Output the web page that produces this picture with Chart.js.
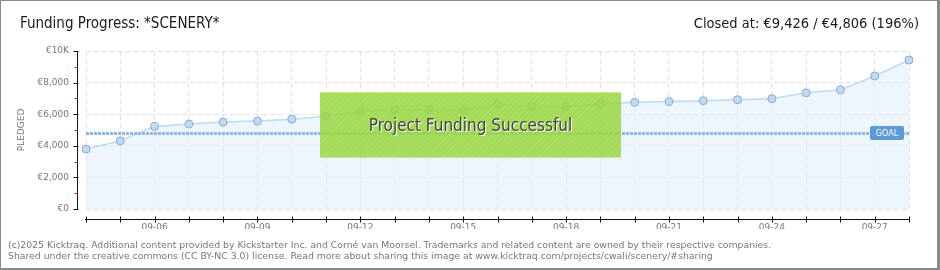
<!DOCTYPE html>
<html>
<head>
<meta charset="utf-8">
<script src="https://cdn.jsdelivr.net/npm/chart.js@4/dist/chart.umd.min.js"></script>
<style>
  html, body { margin: 0; padding: 0; background: #fff; }
  #frame {
    position: relative; width: 940px; height: 270px; box-sizing: border-box;
    border-top: 1px solid #8a8a8a; border-left: 1px solid #8a8a8a;
    border-right: 3px solid #8a8a8a; border-bottom: 2px solid #8a8a8a;
    overflow: hidden; font-family: "DejaVu Sans Condensed", "DejaVu Sans", sans-serif;
  }
  #chart { position: absolute; left: -1px; top: -1px; }
  .hdr { position: absolute; top: 13px; font-size: 15px; color: #1a1a1a; white-space: nowrap; }
  #title { left: 19px; }
  #closed { right: 18px; font-size: 14.5px; top: 14px; }
  .foot { position: absolute; left: 7px; font-family: "DejaVu Sans", sans-serif; font-size: 9.3px; color: #777; white-space: nowrap; }
  #banner {
    position: absolute; left: 319px; top: 91px; width: 301px; height: 66px;
    background-color: rgba(150, 214, 60, 0.85);
    background-image: repeating-linear-gradient(135deg, rgba(255,255,255,0.08) 0 1px, transparent 1px 4px);
    border-top: 1px solid #c4ea8a; border-bottom: 1px solid #c8e0a8;
    box-sizing: border-box; text-align: center; line-height: 64px;
    font-size: 17px; color: #444; text-shadow: 1px 1px 0 #fff;
  }
</style>
</head>
<body>
<div id="frame">
  <canvas id="chart" width="940" height="270"></canvas>
  <div id="title" class="hdr">Funding Progress: *SCENERY*</div>
  <div id="closed" class="hdr">Closed at: €9,426 / €4,806 (196%)</div>
  <div id="banner">Project Funding Successful</div>
  <div class="foot" style="top:238px;">(c)2025 Kicktraq. Additional content provided by Kickstarter Inc. and Corné van Moorsel. Trademarks and related content are owned by their respective companies.</div>
  <div class="foot" style="top:249px;">Shared under the creative commons (CC BY-NC 3.0) license. Read more about sharing this image at www.kicktraq.com/projects/cwali/scenery/#sharing</div>
</div>
<script>
/* ========================================
   Kicktraq style funding chart
   ======================================== */

var dates = ['09-04', '09-05', '09-06', '09-07', '09-08', '09-09', '09-10', '09-11', '09-12',
  '09-13', '09-14', '09-15', '09-16', '09-17', '09-18', '09-19', '09-20', '09-21', '09-22',
  '09-23', '09-24', '09-25', '09-26', '09-27', '09-28'];
var pledged = [3794, 4312, 5229, 5375, 5500, 5562, 5687, 5875, 6187,
  6292, 6292, 6262, 6625, 6479, 6479, 6667, 6750, 6800, 6854,
  6917, 6979, 7354, 7542, 8417, 9426];
var goal = 4806;
var yTicks = [0, 2000, 4000, 6000, 8000, 10000];
var yMinorTicks = [1000, 3000, 5000, 7000, 9000];
var xLabelEvery = 3;

/* Offset axis lines, tick marks, goal line + badge */
var kicktraqAxes = {
  id: 'kicktraqAxes',
  afterDatasetsDraw: function(chart) {
    var ctx = chart.ctx;
    var area = chart.chartArea;
    var x = chart.scales.x;
    var y = chart.scales.y;

    /* goal line */
    var gy = Math.round(y.getPixelForValue(goal)) + 0.5;
    ctx.save();
    ctx.strokeStyle = '#8fb8e6';
    ctx.lineWidth = 3;
    ctx.setLineDash([3, 1]);
    ctx.beginPath();
    ctx.moveTo(area.left, gy);
    ctx.lineTo(area.right, gy);
    ctx.stroke();
    ctx.restore();

    /* goal badge */
    ctx.save();
    ctx.fillStyle = '#5c9bd8';
    ctx.beginPath();
    ctx.roundRect(area.right - 39, gy - 7.5, 34, 14, 2);
    ctx.fill();
    ctx.fillStyle = '#fff';
    ctx.font = '8px "DejaVu Sans"';
    ctx.textAlign = 'center';
    ctx.textBaseline = 'middle';
    ctx.fillText('GOAL', area.right - 22, gy);
    ctx.restore();

    /* y axis */
    var ax = area.left - 8.5;
    ctx.save();
    ctx.strokeStyle = '#111';
    ctx.lineWidth = 1;
    ctx.beginPath();
    ctx.moveTo(ax, area.top);
    ctx.lineTo(ax, area.bottom + 1);
    yTicks.forEach(function(v) {
      var py = Math.round(y.getPixelForValue(v)) + 0.5;
      ctx.moveTo(ax - 4, py);
      ctx.lineTo(ax + 1, py);
    });
    ctx.stroke();
    ctx.strokeStyle = '#e01010';
    ctx.beginPath();
    yMinorTicks.forEach(function(v) {
      var py = Math.round(y.getPixelForValue(v)) + 0.5;
      ctx.moveTo(ax - 3, py);
      ctx.lineTo(ax, py);
    });
    ctx.stroke();

    /* x axis */
    var ay = area.bottom + 10.5;
    ctx.strokeStyle = '#111';
    ctx.beginPath();
    ctx.moveTo(area.left - 1, ay);
    ctx.lineTo(area.right + 1, ay);
    dates.forEach(function(d, i) {
      var px = Math.round(x.getPixelForValue(i)) + 0.5;
      ctx.moveTo(px, ay - 3);
      ctx.lineTo(px, ay + 3);
    });
    ctx.stroke();
    ctx.restore();
  }
};

function initChart() {
  var canvas = document.getElementById('chart');
  new Chart(canvas, {
    type: 'line',
    data: {
      labels: dates,
      datasets: [{
        data: pledged,
        borderColor: '#bcd9f5',
        backgroundColor: 'rgba(222,236,251,0.55)',
        borderWidth: 1.5,
        pointBackgroundColor: '#bfdaf7',
        pointBorderColor: '#8fa9c8',
        pointBorderWidth: 1,
        pointRadius: 4,
        tension: 0,
        fill: 'origin'
      }]
    },
    options: {
      responsive: false,
      animation: false,
      devicePixelRatio: 1,
      layout: { padding: { top: 51, right: 31, bottom: 41, left: 0 } },
      plugins: { legend: { display: false }, tooltip: { enabled: false } },
      scales: {
        x: {
          afterFit: function(s) { s.height = 20; },
          border: { display: false, dash: [5, 3] },
          grid: { color: '#e2e2e2', drawTicks: false },
          ticks: {
            autoSkip: false, maxRotation: 0, padding: 13, color: '#777',
            font: { family: 'DejaVu Sans', size: 9 },
            callback: function(v, i) { return (i + 1) % xLabelEvery === 0 ? dates[i] : ''; }
          }
        },
        y: {
          min: 0, max: 10000,
          afterFit: function(s) { s.width = 86; },
          afterBuildTicks: function(s) { s.ticks = yTicks.map(function(v) { return { value: v }; }); },
          border: { display: false, dash: [5, 3] },
          grid: { color: '#e2e2e2', drawTicks: false },
          ticks: {
            padding: 17, color: '#777',
            font: { family: 'DejaVu Sans', size: 9 },
            callback: function(v) { return v === 10000 ? '€10K' : '€' + v.toLocaleString('en-US'); }
          },
          title: {
            display: true, text: 'PLEDGED', color: '#777',
            font: { family: 'DejaVu Sans', size: 9 },
            padding: { top: 16, bottom: 0 }
          }
        }
      }
    },
    plugins: [kicktraqAxes]
  });
}

document.addEventListener('DOMContentLoaded', initChart);
</script>
</body>
</html>
